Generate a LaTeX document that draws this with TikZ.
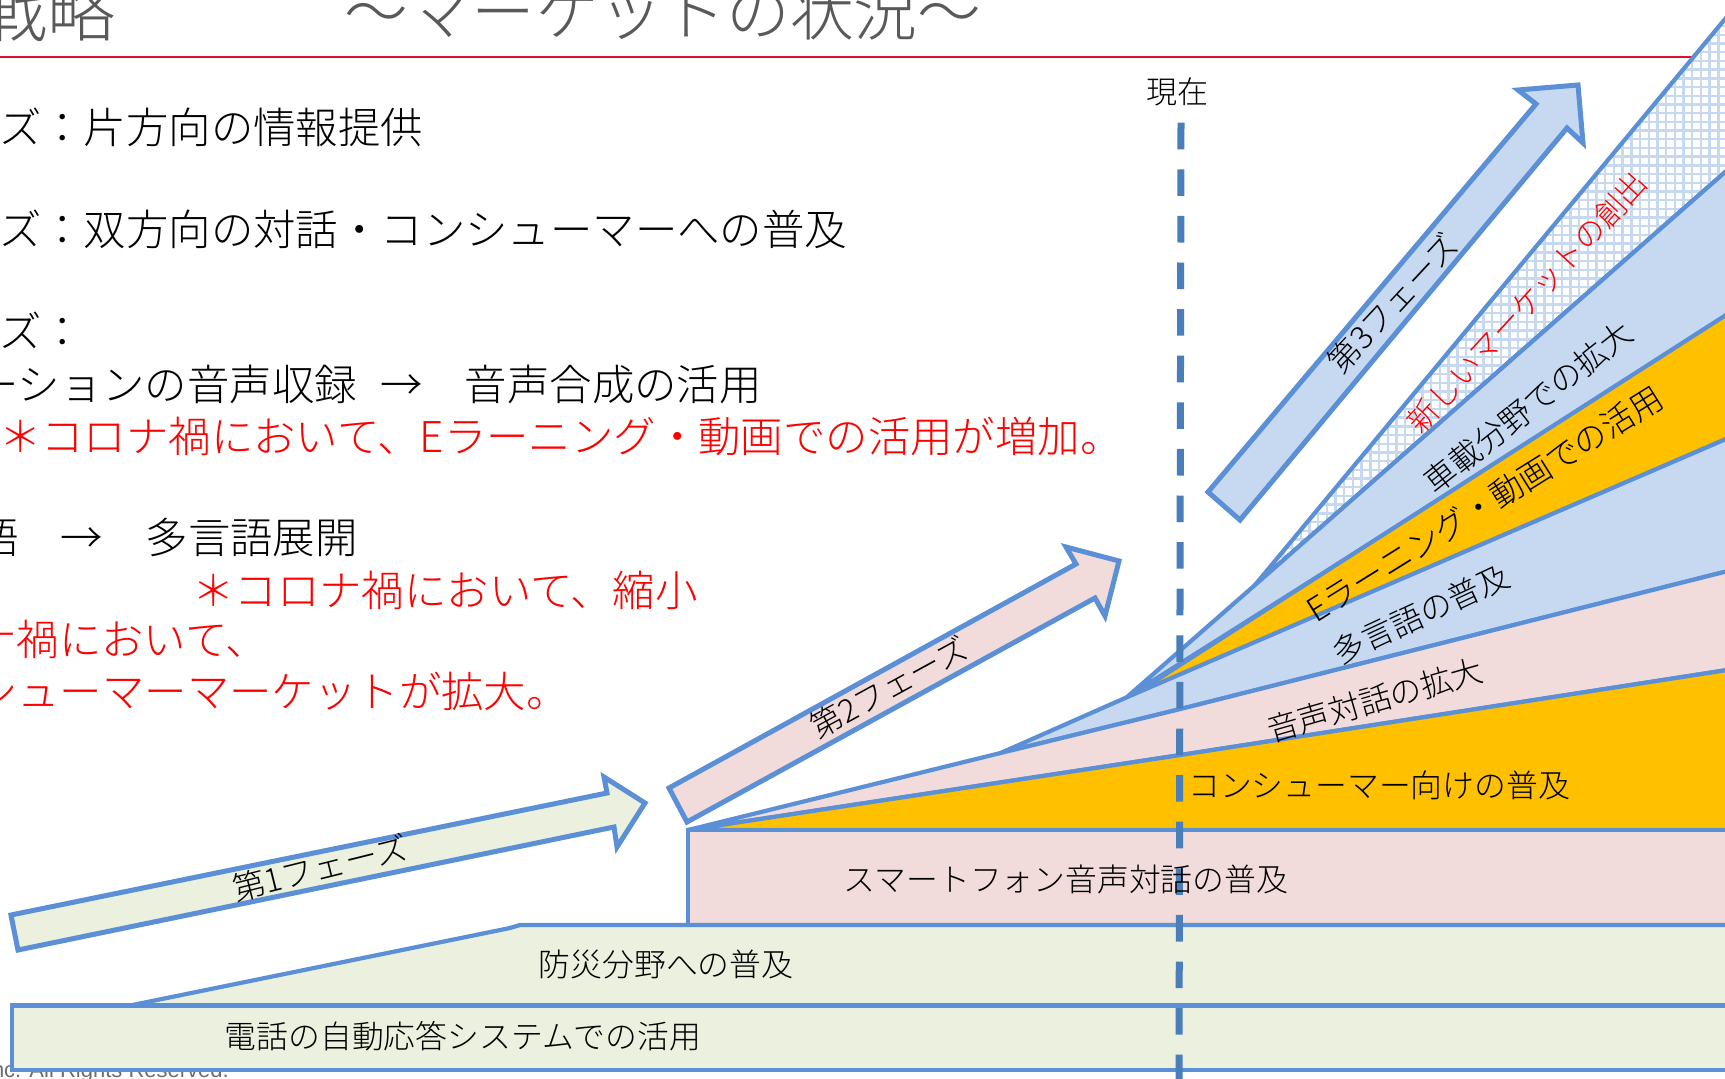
\documentclass[tikz,border=0pt]{standalone}
\usepackage{fontspec}
\setmainfont{Liberation Sans}
\newfontfamily\jp{Noto Sans CJK JP Light}
\newfontfamily\foot{Liberation Sans}
\definecolor{edge}{HTML}{5B8FD6}
\definecolor{dashc}{HTML}{4A7EBB}
\definecolor{green}{HTML}{EBF0DF}
\definecolor{pink}{HTML}{F2DCDB}
\definecolor{gold}{HTML}{FFC000}
\definecolor{sky}{HTML}{C6D9F1}
\definecolor{ruby}{HTML}{E0102F}
\definecolor{titlegray}{HTML}{595959}
\definecolor{footgray}{HTML}{6E6E6E}
\newcommand{\fs}[1]{\fontsize{#1}{#1}\selectfont}
\tikzset{
  x=1pt,y=-1pt,
  band/.style={draw=edge,line width=4.2pt,line join=miter},
  blockarrow/.style={draw=edge,line width=5pt,line join=miter},
  bodytext/.style={inner sep=0pt,font=\jp\fs{42.4},text=black},
  redtext/.style={bodytext,text=red},
  bandtext/.style={inner sep=0pt,font=\jp\fs{31.8},text=black},
}
\begin{document}
\begin{tikzpicture}
\useasboundingbox (0,0) rectangle (1725,1079);
\fill[white] (0,0) rectangle (1725,1079);
% rule and title
\draw[ruby,line width=2pt] (0,56.5) -- (1694,56.5);
\node[inner sep=0pt,anchor=east,font=\jp\fs{68},text=titlegray] (t1) at (116,11) {戦略};
\node[inner sep=0pt,anchor=west,font=\jp\fs{63.7},text=titlegray] (t2) at (344,11) {〜マーケットの状況〜};
% footer
\node[inner sep=0pt,anchor=base east,font=\foot\fs{22},text=footgray] (foot) at (229,1077) {nc. All Rights Reserved.};
% hatched band
\fill[white] (1255,585) -- (1740,1) -- (1740,159) -- cycle;
\begin{scope}
\clip (1255,585) -- (1740,1) -- (1740,159) -- cycle;
\foreach \k in {0,...,62} {
  \draw[sky,line width=2.4pt] (1205+\k*8.7,0) -- (1205+\k*8.7,600);
}
\foreach \k in {0,...,70} {
  \draw[sky,line width=2.4pt] (1200,\k*8.7) -- (1740,\k*8.7);
}
\end{scope}
\draw[band] (1255,585) -- (1740,1) -- (1740,159) -- cycle;
% wedges
\draw[band,fill=sky] (1127,697) -- (1255,585) -- (1740,159) -- (1740,310) -- cycle;
\draw[band,fill=gold] (1130,697) -- (1740,306) -- (1740,433) -- cycle;
\draw[band,fill=sky] (1000.6,753) -- (1127.4,697) -- (1740,433) -- (1740,568) -- (1180.5,709) -- cycle;
\draw[band,fill=pink] (688,830) -- (1000.6,753) -- (1180.5,709) -- (1740,568) -- (1740,668) -- (1180.5,755) -- cycle;
\draw[band,fill=gold] (688,830) -- (1180.5,755) -- (1740,668) -- (1740,830) -- cycle;
\draw[band,fill=pink] (688,925) -- (688,830) -- (1740,830) -- (1740,925) -- cycle;
\draw[band,fill=green] (130,1005.5) -- (510,928) -- (520,925) -- (1740,925) -- (1740,1005.5) -- cycle;
\draw[band,fill=green] (12,1005.5) -- (1740,1005.5) -- (1740,1070) -- (12,1070) -- cycle;
% now line
\coordinate (nowtop) at (1181,122.7);
\coordinate (nowbot) at (1179,1085);
\draw[dashc,line width=7pt,dash pattern=on 26.6pt off 20pt] (nowtop) -- (nowbot);
% block arrows
\draw[blockarrow,fill=green] (11,915) -- (18,950) -- (614,827) -- (617,847) -- (645,803) -- (604,777) -- (607,793) -- cycle;
\draw[blockarrow,fill=pink] (669,788) -- (687,822) -- (1095,598) -- (1105,616) -- (1119,561) -- (1066,547) -- (1076,564) -- cycle;
\draw[blockarrow,fill=sky] (1208,492) -- (1240,520) -- (1567,128) -- (1583,143) -- (1578,85) -- (1518,90) -- (1536,104) -- cycle;
% labels
\node[bandtext,font=\jp\fs{31}] (now) at (1177,92) {現在};
\node[bodytext,anchor=west] (b1) at (-1,127) {ズ：片方向の情報提供};
\node[bodytext,anchor=west] (b2) at (-1,229) {ズ：双方向の対話・コンシューマーへの普及};
\node[bodytext,anchor=west] (b3) at (-1,330) {ズ：};
\node[bodytext,anchor=east] (b4) at (762,384) {ーションの音声収録\hspace{0.55em}→　音声合成の活用};
\node[redtext,anchor=west] (r1) at (-1,436) {＊コロナ禍において、Eラーニング・動画での活用が増加。};
\node[bodytext,anchor=east] (b5) at (358,537) {語　→　多言語展開};
\node[redtext,anchor=west] (r2) at (192,590) {＊コロナ禍において、縮小};
\node[redtext,anchor=east] (r3) at (268,639) {ナ禍において、};
\node[redtext,anchor=east] (r4) at (569,691) {シューマーマーケットが拡大。};
\node[bandtext] (l1) at (463,1036) {電話の自動応答システムでの活用};
\node[bandtext] (l2) at (666,964) {防災分野への普及};
\node[bandtext] (l3) at (1066,879) {スマートフォン音声対話の普及};
\node[bandtext] (l4) at (1379,785) {コンシューマー向けの普及};
\node[bandtext,rotate=16] (l5) at (1375,700) {音声対話の拡大};
\node[bandtext,rotate=25] (l6) at (1421,614) {多言語の普及};
\node[bandtext,font=\jp\fs{32.8},rotate=32] (l7) at (1485,504) {Eラーニング・動画での活用};
\node[bandtext,rotate=38.3] (l8) at (1528,407) {車載分野での拡大};
\node[bandtext,font=\jp\fs{30.8},rotate=47.7,text=red] (l9) at (1527,302) {新しいマーケットの創出};
\node[bandtext,font=\jp\fs{32.6},rotate=14] (p1) at (320,868) {第1フェーズ};
\node[bandtext,rotate=28.7] (p2) at (889,687) {第2フェーズ};
\node[bandtext,rotate=47] (p3) at (1393,303) {第3フェーズ};
\end{tikzpicture}
\end{document}
